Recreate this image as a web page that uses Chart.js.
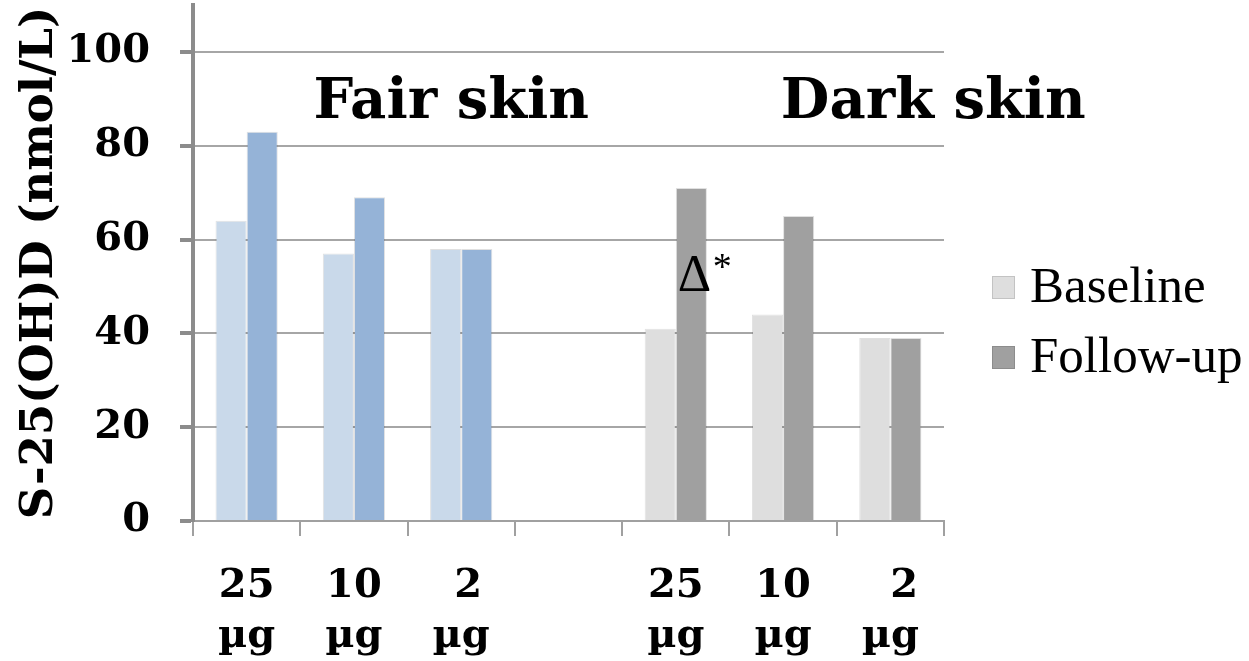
<!DOCTYPE html>
<html>
<head>
<meta charset="utf-8">
<script src="https://cdn.jsdelivr.net/npm/chart.js@4.4.1/dist/chart.umd.min.js"></script>
<style>
  html, body { margin: 0; padding: 0; background: #fff; }
  #chart { display: block; }
</style>
</head>
<body>
<canvas id="chart" width="1249" height="661"></canvas>
<script>
// categories: dose groups, fair skin then an empty gap then dark skin
const categories = [['25', 'µg'], ['10', 'µg'], [' 2', 'µg'], '', ['25', 'µg'], ['10', 'µg'], ['  2', 'µg']];
const baseline = [64, 57, 58, null, 41, 44, 39];
const followUp = [83, 69, 58, null, 71, 65, 39];
const yTicks = [0, 20, 40, 60, 80, 100];

const baselineColors = ['#c9d9ea', '#c9d9ea', '#c9d9ea', null, '#dedede', '#dedede', '#dedede'];
const followColors = ['#95b3d7', '#95b3d7', '#95b3d7', null, '#a0a0a0', '#a0a0a0', '#a0a0a0'];

const serifBold = "'DejaVu Serif', 'Liberation Serif', serif";
const timesLike = "'Liberation Serif', 'Times New Roman', serif";

// texte sur le graphique : groupes et delta
const notesPlugin = {
    id: 'notes',
    afterDatasetsDraw(chart) {
        const { ctx, scales: { x, y } } = chart;
        ctx.save();
        ctx.fillStyle = '#000';
        ctx.textBaseline = 'alphabetic';
        ctx.textAlign = 'center';
        ctx.font = `bold 56px ${serifBold}`;
        ctx.fillText('Fair skin', x.getPixelForValue(2) - 10, y.getPixelForValue(86));
        ctx.fillText('Dark skin', x.getPixelForValue(6) + 43, y.getPixelForValue(86));

        ctx.textAlign = 'left';
        ctx.font = `52px ${timesLike}`;
        const dx = x.getPixelForValue(4) + 2;
        const dy = y.getPixelForValue(49);
        ctx.fillText('Δ', dx, dy);
        ctx.font = `38px ${timesLike}`;
        ctx.fillText('*', dx + 35, dy - 12);
        ctx.restore();
    },
};

// légende à droite, couleurs grises comme l'original
const legendPlugin = {
    id: 'sideLegend',
    afterDraw(chart) {
        const { ctx, chartArea } = chart;
        const items = [
            { label: chart.data.datasets[0].label, color: '#dedede' },
            { label: chart.data.datasets[1].label, color: '#a0a0a0' },
        ];
        ctx.save();
        ctx.font = `51px ${timesLike}`;
        ctx.textBaseline = 'middle';
        ctx.textAlign = 'left';
        items.forEach((it, i) => {
            const cy = 287 + i * 70;
            const bx = chartArea.right + 48;
            ctx.fillStyle = it.color;
            ctx.fillRect(bx, cy - 11, 23, 23);
            ctx.strokeStyle = 'rgba(0,0,0,0.12)';
            ctx.lineWidth = 1;
            ctx.strokeRect(bx + 0.5, cy - 10.5, 22, 22);
            ctx.fillStyle = '#000';
            ctx.fillText(it.label, bx + 38, cy + 2);
        });
        ctx.restore();
    },
};

new Chart(document.getElementById('chart'), {
    type: 'bar',
    plugins: [notesPlugin, legendPlugin],
    data: {
        labels: categories,
        datasets: [
            {
                label: 'Baseline',
                data: baseline,
                backgroundColor: baselineColors,
                borderColor: 'rgba(0,0,0,0.12)',
                borderWidth: 1,
            },
            {
                label: 'Follow-up',
                data: followUp,
                backgroundColor: followColors,
                borderColor: 'rgba(0,0,0,0.12)',
                borderWidth: 1,
            },
        ],
    },
    options: {
        responsive: false,
        animation: false,
        devicePixelRatio: 1,
        categoryPercentage: 0.58,
        barPercentage: 1.0,
        layout: { padding: { top: 5, right: 305, left: 0, bottom: 0 } },
        plugins: {
            legend: { display: false },
            tooltip: { enabled: false },
        },
        scales: {
            x: {
                afterFit: s => { s.height = 140; s.paddingLeft = 0; s.paddingRight = 0; },
                grid: {
                    offset: true,
                    drawOnChartArea: false,
                    drawTicks: true,
                    tickLength: 15,
                    color: '#a0a0a0',
                    lineWidth: 2,
                },
                border: { display: true, color: '#a0a0a0', width: 2 },
                ticks: {
                    autoSkip: false,
                    maxRotation: 0,
                    padding: 26,
                    color: '#000',
                    font: { family: serifBold, size: 40, weight: 'bold', lineHeight: 1.25 },
                },
            },
            y: {
                min: 0,
                max: 110,
                afterFit: s => { s.width = 193; s.paddingTop = 0; s.paddingBottom = 0; },
                afterBuildTicks: s => { s.ticks = yTicks.map(v => ({ value: v })); },
                grid: {
                    color: '#a6a6a6',
                    lineWidth: 2,
                    drawTicks: true,
                    tickLength: 13,
                    tickColor: '#8c8c8c',
                    tickWidth: 4,
                },
                border: { display: true, color: '#8c8c8c', width: 4 },
                ticks: {
                    padding: 30,
                    color: '#000',
                    font: { family: serifBold, size: 40, weight: 'bold' },
                },
                title: {
                    display: true,
                    text: 'S-25(OH)D (nmol/L)',
                    color: '#000',
                    padding: { top: 13, bottom: 0 },
                    font: { family: serifBold, size: 45, weight: 'bold' },
                },
            },
        },
    },
});
</script>
</body>
</html>
